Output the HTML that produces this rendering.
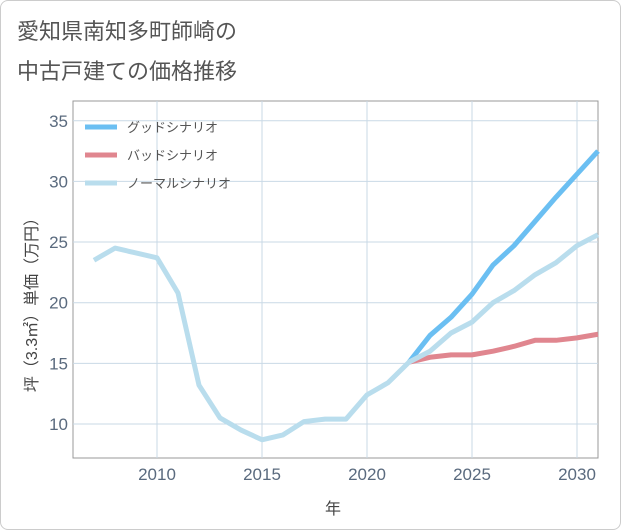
<!DOCTYPE html>
<html><head><meta charset="utf-8">
<style>
body{margin:0;background:#fff;font-family:"Liberation Sans","Noto Sans CJK JP",sans-serif;}
#wrap{position:relative;width:619px;height:528px;border:1px solid #ccc;border-radius:8px;overflow:hidden;background:#fff;}
</style></head><body>
<div id="wrap">
<svg id="chart" width="619" height="528">
<text x="16" y="38" font-size="22" fill="#555">愛知県南知多町師崎の</text>
<text x="16" y="78" font-size="22" fill="#555">中古戸建ての価格推移</text>
<rect x="72" y="100" width="525" height="357" fill="#fff" stroke="#999" stroke-width="1"/>
<g id="grid"></g><g id="lines"></g><g id="legend"></g>
<text x="332" y="513" font-size="16" fill="#444" text-anchor="middle">年</text>
<text transform="translate(36,300) rotate(-90)" font-size="16" fill="#444" text-anchor="middle">坪（3.3㎡）単価（万円）</text>
</svg></div>
<script>
const years=[2007,2008,2009,2010,2011,2012,2013,2014,2015,2016,2017,2018,2019,2020,2021,2022,2023,2024,2025,2026,2027,2028,2029,2030,2031];
const normalValues=[23.5,24.5,24.1,23.7,20.8,13.2,10.5,9.5,8.7,9.1,10.2,10.4,10.4,12.4,13.4,15.1,16.0,17.5,18.4,20.0,21.0,22.3,23.3,24.7,25.6];
const futureYears=[2022,2023,2024,2025,2026,2027,2028,2029,2030,2031];
const goodValues=[15.1,17.3,18.8,20.7,23.1,24.7,26.7,28.7,30.6,32.5];
const badValues=[15.1,15.5,15.7,15.7,16.0,16.4,16.9,16.9,17.1,17.4];
const xTicks=[2010,2015,2020,2025,2030];
const yTicks=[10,15,20,25,30,35];
const legendLabels=["グッドシナリオ","バッドシナリオ","ノーマルシナリオ"];
const NS="http://www.w3.org/2000/svg";
const X=v=>156+(v-2010)*21;
const Y=v=>423-(v-10)*12.13;
function mk(t,a,p){const e=document.createElementNS(NS,t);for(const k in a)e.setAttribute(k,a[k]);p.appendChild(e);return e;}
const grid=document.getElementById('grid');
xTicks.forEach(t=>{
 const l=mk('line',{x1:X(t),x2:X(t),y1:100,y2:457,stroke:'#c9d9e6','stroke-width':1},grid);
 
 
 const tx=mk('text',{x:X(t),y:479,'font-size':17,fill:'#5a6a7e','text-anchor':'middle'},grid);tx.textContent=t;
 
 
});
yTicks.forEach(t=>{
 const l=mk('line',{x1:72,x2:597,y1:Y(t),y2:Y(t),stroke:'#c9d9e6','stroke-width':1},grid);
 
 
 const tx=mk('text',{x:67,y:Y(t)+6,'font-size':17,fill:'#5a6a7e','text-anchor':'end'},grid);tx.textContent=t;
 
 
});
const lines=document.getElementById('lines');
function path(xs,ys,c,name){
 const p=mk('polyline',{points:xs.map((x,i)=>X(x)+','+Y(ys[i])).join(' '),fill:'none',stroke:c,'stroke-width':5,'stroke-linejoin':'round'},lines);
 
 
}
path(futureYears,badValues,'#e0868f','bad-scenario-line');
path(futureYears,goodValues,'#6bbff2','good-scenario-line');
path(years,normalValues,'#b9dded','normal-scenario-line');
const lg=document.getElementById('legend');
const cols=['#6bbff2','#e0868f','#b9dded'];
legendLabels.forEach((s,i)=>{
 const y=126+i*28;
 const l=mk('line',{x1:84,x2:116,y1:y,y2:y,stroke:cols[i],'stroke-width':5},lg);
 
 
 const t=mk('text',{x:126,y:y+5,'font-size':13,fill:'#555'},lg);t.textContent=s;
 
 
});
</script>
</body></html>
